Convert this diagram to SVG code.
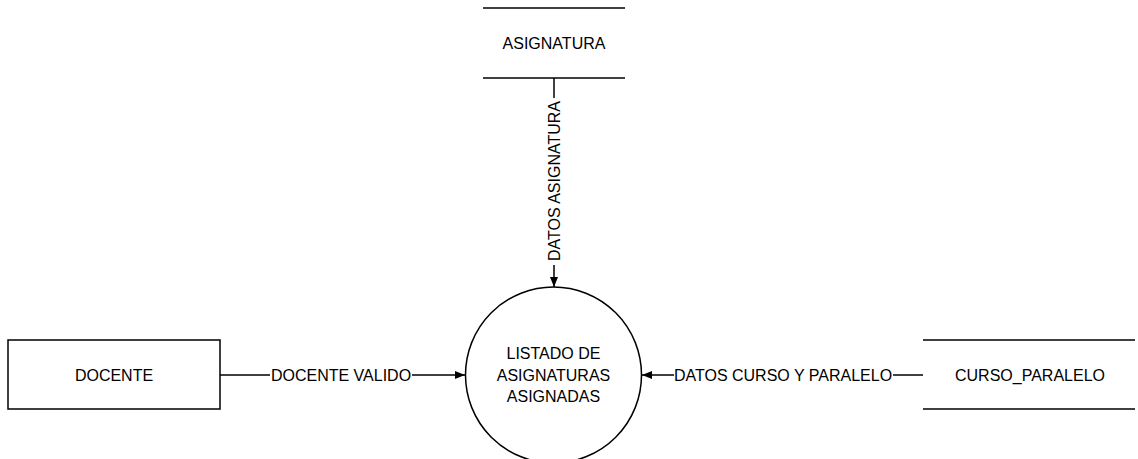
<svg xmlns="http://www.w3.org/2000/svg" width="1138" height="459" viewBox="0 0 1138 459">
<style>
.t{font-family:"Liberation Sans",Arial,sans-serif;font-size:16px;fill:#000;text-anchor:middle;dominant-baseline:central}
.s{stroke:#000;stroke-width:1.5;fill:none}
.bg{fill:#fff}
</style>
<defs>
<marker id="ah" markerWidth="10" markerHeight="8" refX="10" refY="4" orient="auto" markerUnits="userSpaceOnUse">
<path d="M0,0 L10,4 L0,8 Z" fill="#000"/>
</marker>
</defs>
<rect width="1138" height="459" fill="#fff"/>
<g id="asignatura">
<line class="s" x1="483" y1="8" x2="625" y2="8"/>
<line class="s" x1="483" y1="78" x2="625" y2="78"/>
<text class="t" x="554" y="43">ASIGNATURA</text>
</g>
<g id="docente">
<rect class="s" x="8" y="340" width="212" height="69"/>
<text class="t" x="114" y="375">DOCENTE</text>
</g>
<g id="proceso">
<circle class="s" cx="553.5" cy="375" r="88"/>
<text class="t" x="553.5" y="353">LISTADO DE</text>
<text class="t" x="553.5" y="375">ASIGNATURAS</text>
<text class="t" x="553.5" y="396">ASIGNADAS</text>
</g>
<g id="curso_paralelo">
<line class="s" x1="923" y1="340" x2="1135" y2="340"/>
<line class="s" x1="923" y1="409" x2="1135" y2="409"/>
<text class="t" x="1030" y="375">CURSO_PARALELO</text>
</g>
<g id="connectors">
<line class="s" x1="554" y1="78" x2="554" y2="287" marker-end="url(#ah)"/>
<rect class="bg" x="547" y="98" width="15" height="167"/>
<text class="t" x="554" y="181" transform="rotate(-90 554 181)">DATOS ASIGNATURA</text>
<line class="s" x1="220" y1="375" x2="465" y2="375" marker-end="url(#ah)"/>
<rect class="bg" x="270" y="367" width="142" height="16"/>
<text class="t" x="341" y="375">DOCENTE VALIDO</text>
<line class="s" x1="923" y1="375" x2="642" y2="375" marker-end="url(#ah)"/>
<rect class="bg" x="674" y="367" width="219" height="16"/>
<text class="t" x="783" y="375">DATOS CURSO Y PARALELO</text>
</g>
</svg>
